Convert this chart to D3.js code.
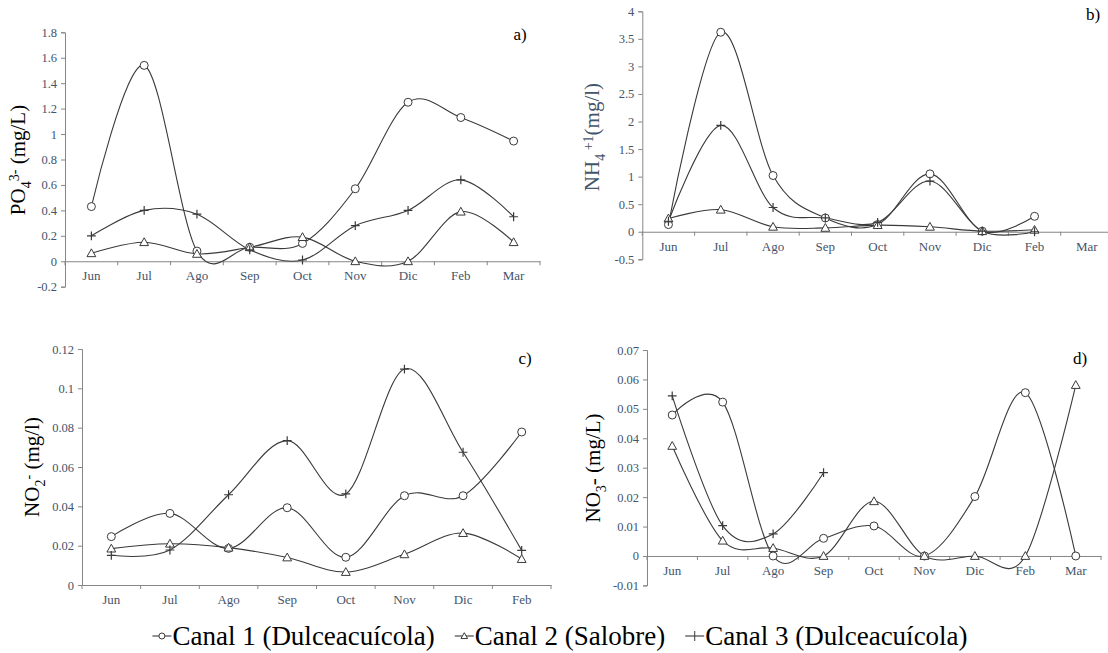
<!DOCTYPE html>
<html>
<head>
<meta charset="utf-8">
<script src="https://cdn.jsdelivr.net/npm/d3@7"></script>
<style>
  body { margin: 0; background: #fff; }
  svg { display: block; font-family: "Liberation Serif", "Times New Roman", serif; }
  svg text { font-family: "Liberation Serif", "Times New Roman", serif; }
</style>
</head>
<body>
<svg id="chart" width="1108" height="653"></svg>
<script>
// months sampled
var months9 = ["Jun", "Jul", "Ago", "Sep", "Oct", "Nov", "Dic", "Feb", "Mar"];
var months8 = months9.slice(0, 8);

// a) PO4 (mg/L)
var po4Canal1 = [0.43, 1.54, 0.08, 0.11, 0.14, 0.57, 1.25, 1.13, 0.945];
var po4Canal2 = [0.063, 0.15, 0.058, 0.11, 0.19, 0.0, 0.0, 0.39, 0.15];
var po4Canal3 = [0.20, 0.40, 0.37, 0.09, 0.01, 0.28, 0.40, 0.64, 0.35];

// b) NH4 (mg/l)
var nh4Canal1 = [0.13, 3.62, 1.02, 0.25, 0.13, 1.05, 0.01, 0.28, null];
var nh4Canal2 = [0.24, 0.40, 0.09, 0.07, 0.12, 0.09, 0.01, 0.035, null];
var nh4Canal3 = [0.19, 1.93, 0.44, 0.25, 0.17, 0.92, 0.01, 0.0, null];

// c) NO2 (mg/l)
var no2Canal1 = [0.0246, 0.0364, 0.0186, 0.0393, 0.0141, 0.0454, 0.0454, 0.0778];
var no2Canal2 = [0.0185, 0.021, 0.019, 0.014, 0.0066, 0.0156, 0.0264, 0.0132];
var no2Canal3 = [0.0151, 0.0178, 0.0459, 0.0734, 0.0463, 0.1098, 0.0675, 0.0176];

// d) NO3 (mg/L)
var no3Canal1 = [0.0479, 0.0523, 0.0, 0.006, 0.0102, 0.0, 0.0202, 0.0555, 0.0];
var no3Canal2 = [0.0374, 0.0052, 0.0027, 0.0, 0.0186, 0.0, 0.0, 0.0, 0.0581];
var no3Canal3 = [0.0544, 0.0103, 0.0075, 0.0283, null, null, null, null, null];

var yTicksA = [-0.2, 0, 0.2, 0.4, 0.6, 0.8, 1, 1.2, 1.4, 1.6, 1.8];
var yTicksB = [-0.5, 0, 0.5, 1, 1.5, 2, 2.5, 3, 3.5, 4];
var yTicksC = [0, 0.02, 0.04, 0.06, 0.08, 0.1, 0.12];
var yTicksD = [-0.01, 0, 0.01, 0.02, 0.03, 0.04, 0.05, 0.06, 0.07];

var seriesNames = ["Canal 1 (Dulceacuícola)", "Canal 2 (Salobre)", "Canal 3 (Dulceacuícola)"];
var markers = ["circle", "triangle", "plus"];

var svg = d3.select("#chart");
var serif = "'Liberation Serif', 'Times New Roman', serif";
var tickColor = "#44546A";
var axisColor = "#868686";
var lineColor = "#3a3a3a";

var panels = [
    {id: "a", months: months9, series: [po4Canal1, po4Canal2, po4Canal3], ticks: yTicksA,
     x0: 65, x1: 540, yTop: 32.3, yBot: 286.7, tag: [520, 40],
     title: {x: 25, y: 160, color: "#000", parts: [["PO", 0], ["4", 1], ["3-", -1], [" (mg/L)", 0]]}},
    {id: "b", months: months9, series: [nh4Canal1, nh4Canal2, nh4Canal3], ticks: yTicksB,
     x0: 642.3, x1: 1113, yTop: 11.3, yBot: 259.3, tag: [1093, 20],
     title: {x: 599, y: 137, color: "#44546A", parts: [["NH", 0], ["4", 1], [" +1", -1], ["(mg/l)", 0]]}},
    {id: "c", months: months8, series: [no2Canal1, no2Canal2, no2Canal3], ticks: yTicksC,
     x0: 82, x1: 551, yTop: 349, yBot: 585, tag: [525, 364],
     title: {x: 39, y: 467, color: "#000", parts: [["NO", 0], ["2", 1], ["-", -1], ["  (mg/l)", 0]]}},
    {id: "d", months: months9, series: [no3Canal1, no3Canal2, no3Canal3], ticks: yTicksD,
     x0: 647, x1: 1101, yTop: 350, yBot: 585.4, tag: [1080, 364],
     title: {x: 600, y: 468, color: "#000", parts: [["NO", 0], ["3", 1], ["- (mg/L)", 0]]}}
];

function drawMarker(g, type, cx, cy, s) {
    if (type == "circle") {
        g.append("circle").attr("cx", cx).attr("cy", cy).attr("r", s)
            .attr("fill", "#fff").attr("stroke", lineColor).attr("stroke-width", 1);
    } else if (type == "triangle") {
        g.append("path")
            .attr("d", "M" + cx + "," + (cy - s * 1.1) + "L" + (cx + s * 1.1) + "," + (cy + s * 0.85) +
                "L" + (cx - s * 1.1) + "," + (cy + s * 0.85) + "Z")
            .attr("fill", "#fff").attr("stroke", lineColor).attr("stroke-width", 1);
    } else {
        g.append("path")
            .attr("d", "M" + (cx - s * 1.1) + "," + cy + "H" + (cx + s * 1.1) + "M" + cx + "," + (cy - s * 1.1) + "V" + (cy + s * 1.1))
            .attr("stroke", lineColor).attr("stroke-width", 1.2);
    }
}

panels.forEach(function (p) {
    var g = svg.append("g").attr("class", "panel-" + p.id);

    var x = d3.scaleBand().domain(p.months).range([p.x0, p.x1]).padding(0);
    var ticks = p.ticks;
    var y = d3.scaleLinear().domain([ticks[0], ticks[ticks.length - 1]]).range([p.yBot, p.yTop]);
    var cx = function (i) { return x(p.months[i]) + x.bandwidth() / 2; };

    // y axis
    var yAxis = g.append("g")
        .attr("transform", "translate(" + p.x0 + ",0)")
        .call(d3.axisLeft(y).tickValues(ticks).tickSize(4).tickPadding(4)
            .tickFormat(function (d) { return String(+d.toFixed(4)); }))
        .attr("font-family", serif).attr("font-size", 12.5);
    yAxis.select(".domain").attr("stroke", axisColor);
    yAxis.selectAll(".tick line").attr("stroke", axisColor);
    yAxis.selectAll("text").attr("fill", tickColor);

    // x axis at zero
    var xAxis = g.append("g")
        .attr("transform", "translate(0," + y(0) + ")")
        .call(d3.axisBottom(x).tickSize(0).tickPadding(10).tickSizeOuter(0))
        .attr("font-family", serif).attr("font-size", 13);
    xAxis.select(".domain").attr("stroke", axisColor);
    xAxis.selectAll("text").attr("fill", tickColor);
    var bounds = p.months.map(function (m) { return x(m); }).concat([p.x1]);
    xAxis.selectAll("line.bound").data(bounds).enter().append("line")
        .attr("class", "bound")
        .attr("x1", function (d) { return d; }).attr("x2", function (d) { return d; })
        .attr("y1", 0).attr("y2", 4)
        .attr("stroke", axisColor);

    // series lines
    var line = d3.line()
        .defined(function (d) { return d != null; })
        .x(function (d, i) { return cx(i); })
        .y(function (d) { return y(d); })
        .curve(d3.curveCardinal.tension(0));

    p.series.forEach(function (vals) {
        g.append("path")
            .datum(vals)
            .attr("d", line)
            .attr("fill", "none")
            .attr("stroke", lineColor)
            .attr("stroke-width", 1.1);
    });
    p.series.forEach(function (vals, si) {
        vals.forEach(function (v, i) {
            if (v == null) return;
            drawMarker(g, markers[si], cx(i), y(v), 4);
        });
    });

    // panel tag
    g.append("text")
        .attr("x", p.tag[0]).attr("y", p.tag[1])
        .attr("text-anchor", "middle")
        .style("font-size", "17px")
        .text(p.id + ")");

    // axis title
    var t = g.append("text")
        .attr("transform", "translate(" + p.title.x + "," + p.title.y + ") rotate(-90)")
        .attr("text-anchor", "middle")
        .attr("fill", p.title.color)
        .style("font-size", "21px");
    var shift = 0;
    p.title.parts.forEach(function (part) {
        var target = part[1] * 6;
        t.append("tspan")
            .attr("dy", target - shift)
            .style("font-size", part[1] != 0 ? "14px" : "21px")
            .text(part[0]);
        shift = target;
    });
});

// legend, laid out from the measured text widths and centred
var lg = svg.append("g").attr("class", "legend");
var legendY = 636, markW = 19, gap = 20;
var items = seriesNames.map(function (name, i) {
    var it = lg.append("g");
    it.append("line")
        .attr("x1", 0).attr("x2", markW)
        .attr("y1", legendY).attr("y2", legendY)
        .attr("stroke", lineColor).attr("stroke-width", 1.1);
    if (markers[i] == "plus") {
        it.append("path").attr("d", "M" + (markW / 2) + "," + (legendY - 5) + "V" + (legendY + 5))
            .attr("stroke", lineColor);
    } else {
        drawMarker(it, markers[i], markW / 2, legendY, 3);
    }
    var txt = it.append("text")
        .attr("x", markW + 1).attr("y", legendY + 9)
        .style("font-size", "27px")
        .text(name);
    return {g: it, w: markW + 1 + txt.node().getComputedTextLength()};
});
var total = d3.sum(items, function (d) { return d.w; }) + gap * (items.length - 1);
var cursor = 560 - total / 2;
items.forEach(function (d) {
    d.g.attr("transform", "translate(" + cursor + ",0)");
    cursor += d.w + gap;
});
</script>
</body>
</html>
